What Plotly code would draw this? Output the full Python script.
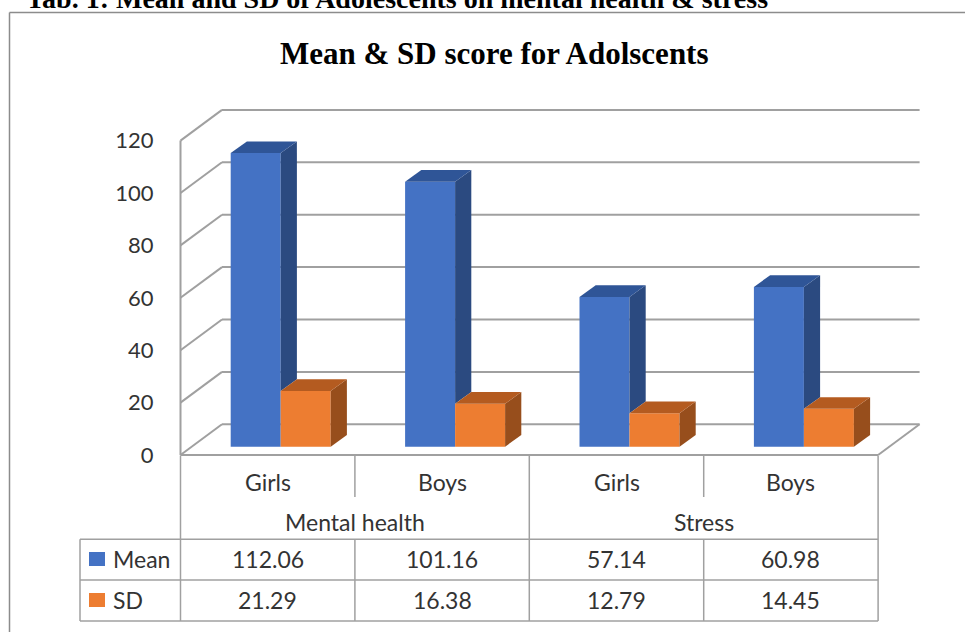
import plotly.graph_objects as go

# ---------------- data ----------------
groups = ["Mental health", "Stress"]
subgroups = ["Girls", "Boys", "Girls", "Boys"]
mean_vals = [112.06, 101.16, 57.14, 60.98]
sd_vals = [21.29, 16.38, 12.79, 14.45]
series_names = ["Mean", "SD"]
y_ticks = [0, 20, 40, 60, 80, 100, 120]
title_text = "Mean & SD score for Adolscents"
caption_text = "Tab. 1: Mean and SD of Adolescents on mental health & stress"

# ---------------- style / geometry ----------------
FW, FH = 965, 632
L, SLOT = 180.5, 174.4          # table left edge px, slot width px
Y0, K = 446.7, 2.62              # bar-plane zero px, px per unit
FLOOR_DX, FLOOR_DY = 41.5, 30.7  # floor depth (px)
FRONT_DV = -8.3 / K              # front plane vs bar plane (units)
BACK_DV = (FLOOR_DY - 8.3) / K   # back plane vs bar plane
BAR_W = 50 / SLOT
MEAN_OFF = -37 / SLOT
SD_OFF = 13 / SLOT
BDX, BDV = 16.2 / SLOT, 11.7 / K
DX_WALL = FLOOR_DX / SLOT

BLUE, BLUE_TOP, BLUE_SIDE = "#4472C4", "#2F5597", "#2B4A80"
ORANGE, ORANGE_TOP, ORANGE_SIDE = "#ED7D31", "#B45B20", "#974E1C"
GRID = "#A0A0A0"
TXT = "#333333"
FONT = "Lato"


def X(px):
    return (px - L) / SLOT - 0.5


def V(py):
    return (Y0 - py) / K


def PX(px):
    return px / FW


def PY(py):
    return 1 - py / FH


n = len(subgroups)
xs = list(range(n))

fig = go.Figure()

# front faces
fig.add_trace(go.Bar(x=xs, y=mean_vals, width=BAR_W, offset=MEAN_OFF,
                     marker=dict(color=BLUE, line=dict(width=0)), name=series_names[0]))
fig.add_trace(go.Bar(x=xs, y=sd_vals, width=BAR_W, offset=SD_OFF,
                     marker=dict(color=ORANGE, line=dict(width=0)), name=series_names[1]))


def poly(pts, color):
    px_ = [p[0] for p in pts] + [pts[0][0]]
    py_ = [p[1] for p in pts] + [pts[0][1]]
    fig.add_trace(go.Scatter(x=px_, y=py_, mode="lines", fill="toself",
                             fillcolor=color, line=dict(width=0, color=color),
                             hoverinfo="skip", showlegend=False))


# mean bars: side (visible part above SD bar) and top
for i, (m, s) in enumerate(zip(mean_vals, sd_vals)):
    a = i + MEAN_OFF
    b = a + BAR_W
    poly([(b, s), (b + BDX, s + BDV), (b + BDX, m + BDV), (b, m)], BLUE_SIDE)
    poly([(a, m), (b, m), (b + BDX, m + BDV), (a + BDX, m + BDV)], BLUE_TOP)
# sd bars
for i, s in enumerate(sd_vals):
    a = i + SD_OFF
    b = a + BAR_W
    poly([(b, 0), (b + BDX, BDV), (b + BDX, s + BDV), (b, s)], ORANGE_SIDE)
    poly([(a, s), (b, s), (b + BDX, s + BDV), (a + BDX, s + BDV)], ORANGE_TOP)

shapes = []


def line(x0, y0, x1, y1, ref="data", color=GRID, width=2, layer="below"):
    if ref == "data":
        shapes.append(dict(type="line", xref="x", yref="y", x0=x0, y0=y0, x1=x1, y1=y1,
                           line=dict(color=color, width=width), layer=layer))
    else:
        shapes.append(dict(type="line", xref="paper", yref="paper",
                           x0=PX(x0), y0=PY(y0), x1=PX(x1), y1=PY(y1),
                           line=dict(color=color, width=width), layer=layer))


left_front = -0.5
right_front = n - 0.5
# walls & gridlines
line(left_front, y_ticks[0] + FRONT_DV, left_front, y_ticks[-1] + FRONT_DV)
for t in y_ticks:
    line(left_front, t + FRONT_DV, left_front + DX_WALL, t + BACK_DV)
    line(left_front + DX_WALL, t + BACK_DV, right_front + DX_WALL, t + BACK_DV)
# floor front & right edge
line(left_front, FRONT_DV, right_front, FRONT_DV)
line(right_front, FRONT_DV, right_front + DX_WALL, BACK_DV)

# ---------------- data table ----------------
T_TOP, T_SUB, T_HDR, T_R1, T_BOT = 455.5, 497, 539.3, 580, 621
T_LEFT = 80
xpx = [L + SLOT * k for k in range(n + 1)]
TW = 1.5
# verticals
line(xpx[0], T_TOP, xpx[0], T_BOT, ref="paper", width=TW)
line(xpx[-1], T_TOP, xpx[-1], T_BOT, ref="paper", width=TW)
line(xpx[2], T_TOP, xpx[2], T_BOT, ref="paper", width=TW)
for k in (1, 3):
    line(xpx[k], T_TOP, xpx[k], T_SUB, ref="paper", width=TW)
    line(xpx[k], T_HDR, xpx[k], T_BOT, ref="paper", width=TW)
line(T_LEFT, T_HDR, T_LEFT, T_BOT, ref="paper", width=TW)
# horizontals
for yy in (T_HDR, T_R1, T_BOT):
    line(T_LEFT, yy, xpx[-1], yy, ref="paper", width=TW)

# legend keys
shapes.append(dict(type="rect", xref="paper", yref="paper", x0=PX(89), x1=PX(105),
                   y0=PY(566), y1=PY(552), fillcolor=BLUE, line=dict(width=0)))
shapes.append(dict(type="rect", xref="paper", yref="paper", x0=PX(89), x1=PX(105),
                   y0=PY(607), y1=PY(593), fillcolor=ORANGE, line=dict(width=0)))

# outer border
line(9.5, 12.5, 980, 12.5, ref="paper", color="#8C8C8C", width=1.5, layer="above")
line(9.5, 12.5, 9.5, 650, ref="paper", color="#8C8C8C", width=1.5, layer="above")

annotations = []


def text(t, px, py, size=23, xanchor="center", color=TXT, family=FONT, bold=False, yanchor="middle"):
    annotations.append(dict(text=("<b>%s</b>" % t) if bold else t, xref="paper", yref="paper",
                            x=PX(px), y=PY(py), xanchor=xanchor, yanchor=yanchor,
                            showarrow=False, font=dict(size=size, color=color, family=family)))


for i, sg in enumerate(subgroups):
    cx = L + SLOT * (i + 0.5)
    text(sg, cx, 482)
    text("%.2f" % mean_vals[i], cx, 558.5)
    text("%.2f" % sd_vals[i], cx, 599.5)
for g, grp in enumerate(groups):
    text(grp, L + SLOT * (2 * g + 1), 522)
text(series_names[0], 111, 558.5, xanchor="left")
text(series_names[1], 111, 599.5, xanchor="left")

text(title_text, 494, 53, size=31, color="#000000",
     family="Liberation Serif, Times New Roman, serif", bold=True)
text(caption_text, 770, 16, size=28, color="#000000", xanchor="right", yanchor="bottom",
     family="Liberation Serif, Times New Roman, serif", bold=True)

fig.update_layout(
    width=FW, height=FH, margin=dict(l=0, r=0, t=0, b=0),
    paper_bgcolor="white", plot_bgcolor="white",
    showlegend=False, barmode="overlay",
    shapes=shapes, annotations=annotations,
    xaxis=dict(range=[X(0), X(FW)], domain=[0, 1], visible=False, fixedrange=True),
    yaxis=dict(range=[V(FH), V(0)], domain=[0, 1], anchor="free", position=PX(L),
               tickvals=[t + FRONT_DV for t in y_ticks], ticktext=[str(t) for t in y_ticks],
               showgrid=False, zeroline=False, showline=False, ticks="",
               ticklabelstandoff=27, tickfont=dict(size=22, color=TXT, family=FONT),
               fixedrange=True),
)

fig.write_html("out.html")
